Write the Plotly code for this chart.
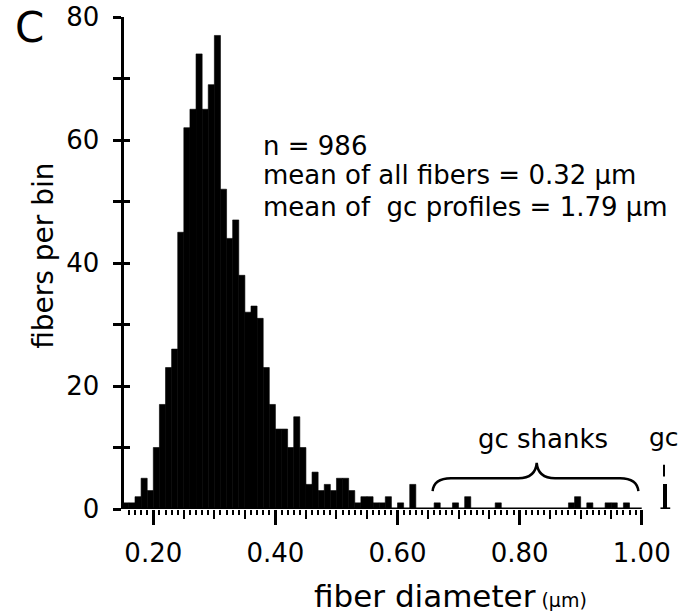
import plotly.graph_objects as go

# ---------------- data ----------------
# lower edges of 0.01-µm bins of the main fiber distribution
main_bin_edges = [0.15, 0.16, 0.17, 0.18, 0.19, 0.20, 0.21, 0.22, 0.23, 0.24,
                  0.25, 0.26, 0.27, 0.28, 0.29, 0.30, 0.31, 0.32, 0.33, 0.34,
                  0.35, 0.36, 0.37, 0.38, 0.39, 0.40, 0.41, 0.42, 0.43, 0.44,
                  0.45, 0.46, 0.47, 0.48, 0.49, 0.50, 0.51, 0.52, 0.53, 0.54,
                  0.55, 0.56, 0.57, 0.58, 0.59, 0.60, 0.61, 0.62]
main_counts = [1, 1, 2, 5, 3, 10, 17, 23, 26, 45,
               62, 65, 74, 65, 69, 77, 52, 44, 47, 38,
               32, 33, 31, 23, 17, 13, 13, 10, 15, 10,
               4, 6, 3, 4, 3, 5, 5, 3, 1, 2,
               2, 1, 1, 2, 0, 1, 0, 4]

# gc shank bins (0.01 wide)
shank_bin_edges = [0.66, 0.69, 0.71, 0.76, 0.88, 0.89, 0.91, 0.94, 0.95, 0.97]
shank_counts = [1, 1, 2, 1, 1, 2, 1, 1, 1, 1]

# gc profiles (off-scale, drawn past the axis break)
gc_position = [1.0387]
gc_counts = [4]

x_tick_values = [0.2, 0.4, 0.6, 0.8, 1.0]
x_tick_labels = ["0.20", "0.40", "0.60", "0.80", "1.00"]
y_tick_values = [0, 10, 20, 30, 40, 50, 60, 70, 80]
y_tick_labels = ["0", "", "20", "", "40", "", "60", "", "80"]

stats_lines = ["n = 986",
               "mean of all fibers = 0.32 \u00b5m",
               "mean of\u00a0 gc profiles = 1.79 \u00b5m"]

# ---------------- figure ----------------
FONT = "DejaVu Sans"
X_RANGE = [0.152, 1.0496]
Y_RANGE = [0, 80]
BIN_W = 0.01

# minor (0.01) and medium (0.05) tick positions along the axis
minor_ticks = [round(0.16 + 0.01 * i, 2) for i in range(85)]
medium_ticks = [round(0.15 + 0.05 * i, 2) for i in range(18) if round((0.15 + 0.05 * i) * 100) % 20 != 0]

fig = go.Figure()
fig.add_trace(go.Bar(x=main_bin_edges, y=main_counts, width=BIN_W, offset=0,
                     marker=dict(color="black", line=dict(color="black", width=0.6)),
                     showlegend=False, hoverinfo="skip"))
fig.add_trace(go.Bar(x=shank_bin_edges, y=shank_counts, width=BIN_W, offset=0,
                     marker=dict(color="black", line=dict(color="black", width=0.6)),
                     showlegend=False, hoverinfo="skip"))
fig.add_trace(go.Bar(x=gc_position, y=gc_counts, width=0.0065,
                     marker=dict(color="black", line=dict(width=0)),
                     showlegend=False, hoverinfo="skip"))
# dummy trace so the overlay axes (extra tick sets) are drawn
fig.add_trace(go.Scatter(x=[None], y=[None], xaxis="x2", yaxis="y2",
                         showlegend=False, hoverinfo="skip"))

fig.update_layout(
    width=683, height=613,
    margin=dict(l=124, r=11, t=17, b=104, autoexpand=False),
    paper_bgcolor="white", plot_bgcolor="white",
    bargap=0, barmode="overlay",
    font=dict(family=FONT, color="black", size=25),
    hovermode=False,
    xaxis=dict(range=X_RANGE, showgrid=False, zeroline=False, showline=False,
               automargin=False,
               tickmode="array", tickvals=x_tick_values, ticktext=x_tick_labels,
               ticks="outside", ticklen=15, tickwidth=2.5, tickcolor="black",
               ticklabelstandoff=6,
               tickfont=dict(family=FONT, size=26, color="black"),
               minor=dict(tickvals=minor_ticks, ticks="outside", ticklen=5,
                          tickwidth=2, tickcolor="black", showgrid=False)),
    xaxis2=dict(range=X_RANGE, overlaying="x", anchor="y2", side="bottom",
                automargin=False,
                showgrid=False, zeroline=False, showline=False,
                tickmode="array", tickvals=medium_ticks, showticklabels=False,
                ticks="outside", ticklen=9, tickwidth=2, tickcolor="black"),
    yaxis=dict(range=Y_RANGE, showgrid=False, zeroline=False,
               automargin=False,
               showline=True, linewidth=3.5, linecolor="black",
               tickmode="array", tickvals=y_tick_values, ticktext=y_tick_labels,
               ticks="outside", ticklen=8, tickwidth=3, tickcolor="black",
               ticklabelstandoff=8,
               tickfont=dict(family=FONT, size=26, color="black")),
    yaxis2=dict(range=Y_RANGE, overlaying="y", anchor="x2", side="left",
                automargin=False,
                showgrid=False, zeroline=False, showline=False,
                tickmode="array", tickvals=y_tick_values, showticklabels=False,
                ticks="inside", ticklen=6, tickwidth=3, tickcolor="black"),
)

# x-axis line ends at 1.00 (axis break before the gc bin)
fig.add_shape(type="line", xref="x", yref="y", x0=X_RANGE[0], x1=x_tick_values[-1],
              y0=0, y1=0, line=dict(color="black", width=3.2), layer="above")
# short base under the gc bar
fig.add_shape(type="line", xref="x", yref="y", x0=gc_position[0] - 0.008,
              x1=gc_position[0] + 0.008, y0=0, y1=0,
              line=dict(color="black", width=3.2), layer="above")

# curly brace over the gc shanks
bx0, bx1 = shank_bin_edges[0] - 0.0025, 0.9945
bxc = 0.828
y_end, y_flat, y_tip = 2.9, 5.0, 7.5
brace = (f"M {bx0},{y_end} Q {bx0 + 0.002},{y_flat} {bx0 + 0.03},{y_flat} "
         f"L {bxc - 0.03},{y_flat} Q {bxc - 0.002},{y_flat} {bxc},{y_tip} "
         f"Q {bxc + 0.002},{y_flat} {bxc + 0.03},{y_flat} "
         f"L {bx1 - 0.03},{y_flat} Q {bx1 - 0.002},{y_flat} {bx1},{y_end}")
fig.add_shape(type="path", xref="x", yref="y", path=brace,
              line=dict(color="black", width=2.5))
# small tick under the "gc" label
fig.add_shape(type="line", xref="x", yref="y", x0=1.0365, x1=1.0365, y0=5.3, y1=7.2,
              line=dict(color="black", width=2))

# statistics text
for line, yv in zip(stats_lines, [59.1, 54.3, 49.1]):
    fig.add_annotation(text=line, x=0.3764, y=yv, xref="x", yref="y",
                       xanchor="left", yanchor="middle", showarrow=False,
                       font=dict(family=FONT, size=26, color="black"))

fig.add_annotation(text="gc shanks", x=0.8375, y=11.4, xref="x", yref="y",
                   xanchor="center", yanchor="middle", showarrow=False,
                   font=dict(family=FONT, size=26, color="black"))
fig.add_annotation(text="gc", x=1.0365, y=11.7, xref="x", yref="y",
                   xanchor="center", yanchor="middle", showarrow=False,
                   font=dict(family=FONT, size=25, color="black"))

# panel letter
fig.add_annotation(text="C", x=-0.173, y=0.978, xref="paper", yref="paper",
                   xanchor="center", yanchor="middle", showarrow=False,
                   font=dict(family=FONT, size=42, color="black"))

# axis titles
fig.add_annotation(text="fibers per bin", x=-0.146, y=0.5145, xref="paper", yref="paper",
                   xanchor="center", yanchor="middle", textangle=-90, showarrow=False,
                   font=dict(family=FONT, size=28, color="black"))
fig.add_annotation(text="fiber diameter<span style='font-size:19px'> (\u00b5m)</span>",
                   x=0.5967, y=-0.176, xref="paper", yref="paper",
                   xanchor="center", yanchor="middle", showarrow=False,
                   font=dict(family=FONT, size=31, color="black"))

# the page body has a default 8px margin; remove it so the 683x613 figure fills the window
fig.write_html("out.html", config={"displayModeBar": False, "staticPlot": True},
               post_script="document.body.style.margin='0px';document.body.style.overflow='hidden';")
